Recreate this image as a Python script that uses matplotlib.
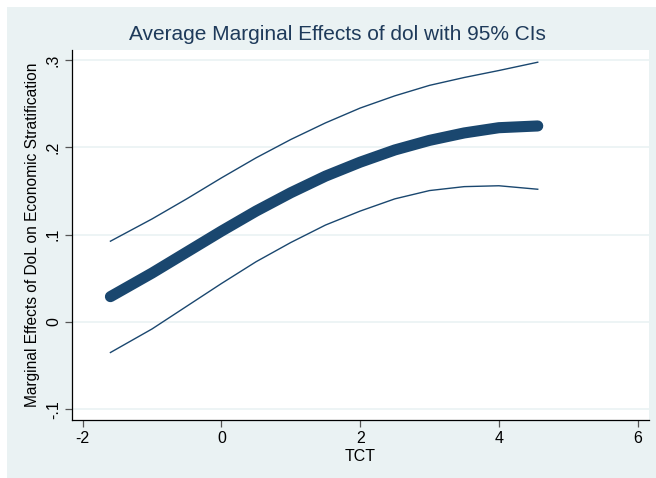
import matplotlib
matplotlib.use("Agg")
import matplotlib.pyplot as plt
from matplotlib.patches import Rectangle

plt.rcParams["font.family"] = ["Liberation Sans", "DejaVu Sans"]

# Values
tct = [-1.6, -1.0, -0.5, 0.0, 0.5, 1.0, 1.5, 2.0, 2.5, 3.0, 3.5, 4.0, 4.56]
ame = [0.029, 0.056, 0.080, 0.104, 0.127, 0.148, 0.167, 0.183, 0.197, 0.208, 0.2165, 0.2225, 0.2245]
ci_upper = [0.0925, 0.118, 0.141, 0.165, 0.188, 0.209, 0.228, 0.245, 0.259, 0.271, 0.280, 0.288, 0.2975]
ci_lower = [-0.035, -0.008, 0.018, 0.044, 0.069, 0.091, 0.111, 0.127, 0.141, 0.1505, 0.155, 0.156, 0.152]

xticks = [-2, 0, 2, 4, 6]
yticks = [-0.1, 0, 0.1, 0.2, 0.3]
ytick_labels = ["-.1", "0", ".1", ".2", ".3"]

navy = "#1a476f"
bg = "#eaf2f3"

fig = plt.figure(figsize=(6.56, 4.78), dpi=100, facecolor="white")
fig.patches.append(Rectangle((7 / 656, 0), 1, 1 - 7 / 478, transform=fig.transFigure,
                             facecolor=bg, edgecolor="none", zorder=-5))

ax = fig.add_axes([72 / 656, 58 / 478, 577 / 656, 370 / 478])
ax.set_facecolor("white")

ax.plot(tct, ci_upper, color=navy, lw=1.0)
ax.plot(tct, ci_lower, color=navy, lw=1.0)
ax.plot(tct, ame, color=navy, lw=8, solid_capstyle="round", solid_joinstyle="round")

ax.set_xlim(-2.154, 6.164)
ax.set_ylim(-0.1123, 0.3115)
ax.set_xticks(xticks)
ax.set_xticklabels([str(t) for t in xticks])
ax.set_yticks(yticks)
ax.set_yticklabels(ytick_labels, rotation=90, va="center")
ax.yaxis.grid(True, color=bg, lw=1.2)
ax.set_axisbelow(True)

for side in ["top", "right"]:
    ax.spines[side].set_visible(False)
for side in ["left", "bottom"]:
    ax.spines[side].set_color("black")
    ax.spines[side].set_linewidth(0.9)
ax.tick_params(direction="out", length=5, width=0.9, color="#555555", labelsize=11.5, pad=3)

ax.set_xlabel("TCT", fontsize=11.5, labelpad=2)
ax.set_ylabel("Marginal Effects of DoL on Economic Stratification", fontsize=11.2, labelpad=4)
fig.text(337 / 656, 1 - 35 / 478, "Average Marginal Effects of dol with 95% CIs",
         ha="center", va="center", fontsize=15, color="#1e3a5a")

fig.savefig("out.png", dpi=100, facecolor=fig.get_facecolor())
